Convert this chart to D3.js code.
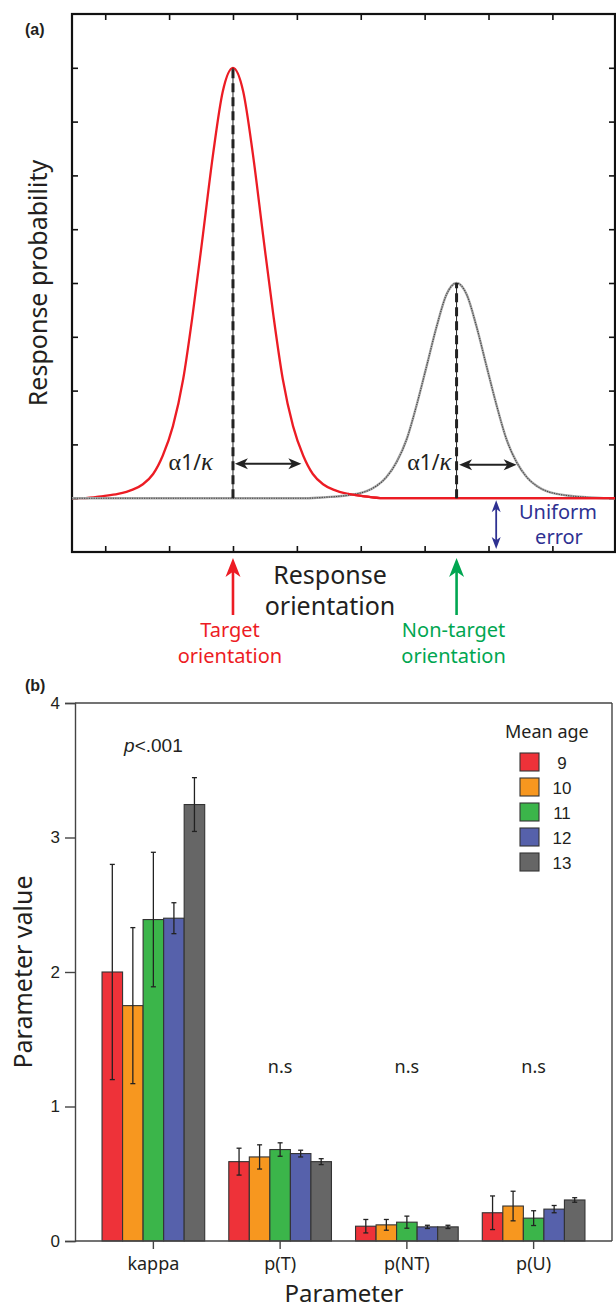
<!DOCTYPE html>
<html><head><meta charset="utf-8">
<script src="https://cdn.jsdelivr.net/npm/d3@7"></script>
<style>body{margin:0;background:#fff}svg{display:block}</style>
</head><body><svg id="c" width="616" height="1308"></svg>
<script>
// ---------- Panel (a) data ----------
const xTicksA = [0, 1, 2, 3, 4, 5, 6, 7];
const yTicksA = [1, 2, 3, 4, 5, 6, 7, 8, 9];
const uniformLevel = 1;
const targetPos = 2, targetPeak = 9;
const nonTargetPos = 5.5, nonTargetPeak = 5;
// target (red) curve: [orientation, probability]
const targetCurve = [
  [-0.52,1.00],[-0.35,1.00],[-0.03,1.04],[0.20,1.08],[0.43,1.16],[0.59,1.26],[0.75,1.45],
  [0.90,1.79],[1.06,2.34],[1.22,3.21],[1.37,4.42],[1.53,5.90],[1.69,7.41],[1.84,8.56],[2.00,9.00],
  [2.16,8.56],[2.31,7.41],[2.47,5.90],[2.63,4.42],[2.78,3.21],[2.94,2.34],[3.10,1.79],[3.25,1.45],
  [3.41,1.26],[3.57,1.16],[3.80,1.08],[4.03,1.04],[4.35,1.00],[7.98,1.00]
];
// non-target (grey) curve
const nonTargetCurve = [
  [-0.52,1.00],[3.15,1.00],[3.47,1.02],[3.70,1.04],[3.93,1.08],[4.09,1.13],[4.25,1.23],[4.40,1.39],
  [4.56,1.67],[4.72,2.10],[4.87,2.71],[5.03,3.45],[5.19,4.20],[5.34,4.78],[5.50,5.00],
  [5.66,4.78],[5.81,4.20],[5.97,3.45],[6.13,2.71],[6.28,2.10],[6.44,1.67],[6.60,1.39],[6.75,1.23],
  [6.91,1.13],[7.07,1.08],[7.30,1.04],[7.53,1.02],[7.85,1.00],[7.98,1.00]
];
const widthArrows = [ // [from, to, level]
  [2.03, 3.07, 1.64],
  [5.54, 6.44, 1.62]
];
const uniformArrowPos = 6.12;

// ---------- Panel (b) data ----------
const categories = ["kappa", "p(T)", "p(NT)", "p(U)"];
const ages = ["9", "10", "11", "12", "13"];
const ageColors = ["#ee3239", "#f7971f", "#3bb54a", "#5661ab", "#666666"];
const mean9  = [2.00, 0.59, 0.11, 0.21];
const mean10 = [1.75, 0.625, 0.12, 0.26];
const mean11 = [2.39, 0.68, 0.14, 0.17];
const mean12 = [2.40, 0.65, 0.105, 0.237];
const mean13 = [3.245, 0.59, 0.105, 0.305];
const err9  = [0.80, 0.10, 0.05, 0.125];
const err10 = [0.58, 0.09, 0.04, 0.11];
const err11 = [0.50, 0.05, 0.045, 0.055];
const err12 = [0.115, 0.025, 0.012, 0.027];
const err13 = [0.20, 0.022, 0.012, 0.017];
const yTicksB = [0, 1, 2, 3, 4];
const sigLabels = ["p<.001", "n.s", "n.s", "n.s"];

const svg = d3.select("#c");
const SANS = "'Noto Sans', 'Open Sans', sans-serif";
const ARIAL = "'Liberation Sans', Arial, sans-serif";
const TXT = "#231f20";

// ================= Panel (a) =================
const xA = d3.scaleLinear().domain([-0.52, 7.98]).range([72, 615]);
const yA = d3.scaleLinear().domain([0, 10]).range([552, 14]);
const gA = svg.append("g");

function styleAxisA(g){
  g.select(".domain").remove();
  g.selectAll(".tick line").attr("stroke", "#111").attr("stroke-width", 1.6);
  g.selectAll(".tick text").remove();
}
gA.append("g").attr("transform", `translate(0,${yA(0)})`)
  .call(d3.axisBottom(xA).tickValues(xTicksA).tickSizeInner(-6).tickSizeOuter(0)).call(styleAxisA);
gA.append("g").attr("transform", `translate(0,${yA(10)})`)
  .call(d3.axisTop(xA).tickValues(xTicksA).tickSizeInner(-6).tickSizeOuter(0)).call(styleAxisA);
gA.append("g").attr("transform", `translate(${xA(-0.52)},0)`)
  .call(d3.axisLeft(yA).tickValues(yTicksA).tickSizeInner(-6).tickSizeOuter(0)).call(styleAxisA);
gA.append("g").attr("transform", `translate(${xA(7.98)},0)`)
  .call(d3.axisRight(yA).tickValues(yTicksA).tickSizeInner(-6).tickSizeOuter(0)).call(styleAxisA);
gA.append("rect").attr("x", xA(-0.52)).attr("y", yA(10))
  .attr("width", xA(7.98) - xA(-0.52)).attr("height", yA(0) - yA(10))
  .attr("fill", "none").attr("stroke", "#111").attr("stroke-width", 2.2);

const lineA = d3.line().x(d => xA(d[0])).y(d => yA(d[1])).curve(d3.curveMonotoneX);

// red full curve
gA.append("path").datum(targetCurve).attr("d", lineA)
  .attr("fill", "none").attr("stroke", "#ec1c24").attr("stroke-width", 2.3);
// grey textured curve
gA.append("path").datum(nonTargetCurve).attr("d", lineA)
  .attr("fill", "none").attr("stroke", "#a8a8a8").attr("stroke-width", 2.4);
gA.append("path").datum(nonTargetCurve).attr("d", lineA)
  .attr("fill", "none").attr("stroke", "#444").attr("stroke-width", 1.1)
  .attr("stroke-dasharray", "1.2,1.2");
// red over the right part of the baseline
gA.append("path").datum(targetCurve.filter(d => d[0] >= 3.8)).attr("d", lineA)
  .attr("fill", "none").attr("stroke", "#ec1c24").attr("stroke-width", 2.3);

// dashed centre lines
[[targetPos, targetPeak], [nonTargetPos, nonTargetPeak]].forEach(([p, h]) => {
  gA.append("line").attr("x1", xA(p)).attr("x2", xA(p)).attr("y1", yA(uniformLevel)).attr("y2", yA(h))
    .attr("stroke", "#222").attr("stroke-width", 1);
  gA.append("line").attr("x1", xA(p)).attr("x2", xA(p)).attr("y1", yA(uniformLevel)).attr("y2", yA(h))
    .attr("stroke", "#222").attr("stroke-width", 3).attr("stroke-dasharray", "9,5");
});

function head(x, y, dx, dy, len, hw, color){
  const px = -dy, py = dx;
  const bx = x - dx*len, by = y - dy*len;
  const nx = x - dx*len*0.72, ny = y - dy*len*0.72;
  return gA.append("path")
    .attr("d", `M${x},${y}L${bx+px*hw},${by+py*hw}L${nx},${ny}L${bx-px*hw},${by-py*hw}Z`)
    .attr("fill", color);
}
// width arrows
widthArrows.forEach(([a, b, lv]) => {
  const y = yA(lv), x1 = xA(a), x2 = xA(b);
  gA.append("line").attr("x1", x1+6).attr("x2", x2-6).attr("y1", y).attr("y2", y)
    .attr("stroke", "#222").attr("stroke-width", 2);
  head(x1, y, -1, 0, 13, 5.5, "#222");
  head(x2, y, 1, 0, 13, 5.5, "#222");
});
// alpha 1/kappa labels
function kappaLabel(xr, y){
  const t = gA.append("text").attr("x", xr).attr("y", y).attr("text-anchor", "end").attr("fill", TXT);
  t.append("tspan").attr("font-family", "'Liberation Serif', serif").attr("font-size", 24).text("α");
  t.append("tspan").attr("font-family", SANS).attr("font-size", 21).text("1/");
  t.append("tspan").attr("font-family", "'Liberation Serif', serif").attr("font-style", "italic").attr("font-size", 25).text("κ");
}
kappaLabel(xA(targetPos) - 20, yA(widthArrows[0][2]) + 6);
kappaLabel(xA(nonTargetPos) - 5, yA(widthArrows[1][2]) + 5);

// uniform error arrow
{
  const x = xA(uniformArrowPos), y1 = yA(uniformLevel) + 2, y2 = yA(0) - 3;
  gA.append("line").attr("x1", x).attr("x2", x).attr("y1", y1+8).attr("y2", y2-8)
    .attr("stroke", "#2e3192").attr("stroke-width", 1.8);
  head(x, y1, 0, -1, 12, 4.5, "#2e3192");
  head(x, y2, 0, 1, 12, 4.5, "#2e3192");
  gA.append("text").attr("x", 558).attr("y", 519).attr("text-anchor", "middle")
    .attr("font-family", SANS).attr("font-size", 20).attr("fill", "#2e3192").text("Uniform");
  gA.append("text").attr("x", 559).attr("y", 544).attr("text-anchor", "middle")
    .attr("font-family", SANS).attr("font-size", 20).attr("fill", "#2e3192").text("error");
}

// axis titles (a)
gA.append("text").attr("x", 330).attr("y", 584).attr("text-anchor", "middle")
  .attr("font-family", SANS).attr("font-size", 25).attr("fill", TXT).text("Response");
gA.append("text").attr("x", 330).attr("y", 615).attr("text-anchor", "middle")
  .attr("font-family", SANS).attr("font-size", 25).attr("fill", TXT).text("orientation");
gA.append("text").attr("transform", "translate(47,283) rotate(-90)").attr("text-anchor", "middle")
  .attr("font-family", SANS).attr("font-size", 25).attr("fill", TXT).text("Response probability");
gA.append("text").attr("x", 25).attr("y", 35)
  .attr("font-family", ARIAL).attr("font-weight", "bold").attr("font-size", 16).attr("fill", TXT).text("(a)");

// target / non-target arrows
[[targetPos, "#ed1c24", "Target"], [nonTargetPos, "#00a651", "Non-target"]].forEach(([p, col, lab]) => {
  const x = xA(p);
  gA.append("line").attr("x1", x).attr("x2", x).attr("y1", 615).attr("y2", 570)
    .attr("stroke", col).attr("stroke-width", 2.6);
  head(x, 558, 0, -1, 19, 7.5, col);
  gA.append("text").attr("x", x - 3).attr("y", 637).attr("text-anchor", "middle")
    .attr("font-family", SANS).attr("font-size", 20).attr("fill", col).text(lab);
  gA.append("text").attr("x", x - 3).attr("y", 663).attr("text-anchor", "middle")
    .attr("font-family", SANS).attr("font-size", 20).attr("fill", col).text("orientation");
});

// ================= Panel (b) =================
const means = [mean9, mean10, mean11, mean12, mean13];
const errs = [err9, err10, err11, err12, err13];
const x0 = d3.scaleBand().domain(categories).range([90, 597]).paddingInner(0.19).paddingOuter(0.095);
const x1 = d3.scaleBand().domain(ages).range([0, x0.bandwidth()]);
const yB = d3.scaleLinear().domain([0, 4]).range([1241, 703]);
const color = d3.scaleOrdinal().domain(ages).range(ageColors);
const gB = svg.append("g");
const AX = "#444";

// frame
gB.append("line").attr("x1", 75).attr("x2", 612).attr("y1", yB(4)).attr("y2", yB(4)).attr("stroke", AX).attr("stroke-width", 1.4);
gB.append("line").attr("x1", 612).attr("x2", 612).attr("y1", yB(4)).attr("y2", yB(0)).attr("stroke", AX).attr("stroke-width", 1.4);

const rows = [];
categories.forEach((c, ci) => ages.forEach((a, ai) => rows.push({c, a, v: means[ai][ci], e: errs[ai][ci]})));

gB.selectAll("rect.bar").data(rows).join("rect").attr("class", "bar")
  .attr("x", d => x0(d.c) + x1(d.a)).attr("width", x1.bandwidth())
  .attr("y", d => yB(d.v)).attr("height", d => yB(0) - yB(d.v))
  .attr("fill", d => color(d.a)).attr("stroke", "#333").attr("stroke-width", 1.1);

const eb = gB.selectAll("g.err").data(rows).join("g").attr("class", "err")
  .attr("transform", d => `translate(${x0(d.c) + x1(d.a) + x1.bandwidth()/2},0)`);
eb.append("line").attr("y1", d => yB(d.v - d.e)).attr("y2", d => yB(d.v + d.e)).attr("stroke", "#222").attr("stroke-width", 1.3);
eb.append("line").attr("x1", -2.5).attr("x2", 2.5).attr("y1", d => yB(d.v + d.e)).attr("y2", d => yB(d.v + d.e)).attr("stroke", "#222").attr("stroke-width", 1.3);
eb.append("line").attr("x1", -2.5).attr("x2", 2.5).attr("y1", d => yB(d.v - d.e)).attr("y2", d => yB(d.v - d.e)).attr("stroke", "#222").attr("stroke-width", 1.3);

// axes
const yAxB = gB.append("g").attr("transform", "translate(75,0)")
  .call(d3.axisLeft(yB).tickValues(yTicksB).tickSize(10).tickPadding(5).tickFormat(d3.format("d")));
yAxB.selectAll("path,line").attr("stroke", AX).attr("stroke-width", 1.4);
yAxB.selectAll("text").attr("font-family", ARIAL).attr("font-size", 17).attr("fill", TXT);

const xAxB = gB.append("g").attr("transform", `translate(0,${yB(0)})`)
  .call(d3.axisBottom(x0).tickSize(8).tickPadding(8).tickSizeOuter(0));
xAxB.select(".domain").remove();
xAxB.selectAll("line").attr("stroke", AX).attr("stroke-width", 1.4);
xAxB.selectAll("text").attr("font-family", SANS).attr("font-size", 18).attr("fill", TXT);
gB.append("line").attr("x1", 75).attr("x2", 612).attr("y1", yB(0)).attr("y2", yB(0)).attr("stroke", AX).attr("stroke-width", 1.4);

// significance labels
categories.forEach((c, i) => {
  const cx = x0(c) + x0.bandwidth()/2;
  if (i === 0) {
    const t = gB.append("text").attr("x", cx).attr("y", 752).attr("text-anchor", "middle")
      .attr("font-family", ARIAL).attr("font-size", 19).attr("fill", TXT);
    t.append("tspan").attr("font-style", "italic").text("p");
    t.append("tspan").text(sigLabels[i].slice(1));
  } else {
    gB.append("text").attr("x", cx).attr("y", 1073).attr("text-anchor", "middle")
      .attr("font-family", SANS).attr("font-size", 18).attr("fill", TXT).text(sigLabels[i]);
  }
});

// titles
gB.append("text").attr("x", 344).attr("y", 1302).attr("text-anchor", "middle")
  .attr("font-family", SANS).attr("font-size", 24).attr("fill", TXT).text("Parameter");
gB.append("text").attr("transform", "translate(32,972) rotate(-90)").attr("text-anchor", "middle")
  .attr("font-family", SANS).attr("font-size", 25).attr("fill", TXT).text("Parameter value");
gB.append("text").attr("x", 25).attr("y", 691)
  .attr("font-family", ARIAL).attr("font-weight", "bold").attr("font-size", 16).attr("fill", TXT).text("(b)");

// legend
gB.append("text").attr("x", 505).attr("y", 738).attr("font-family", SANS).attr("font-size", 18).attr("fill", TXT).text("Mean age");
const lg = gB.selectAll("g.lg").data(ages).join("g").attr("class", "lg")
  .attr("transform", (d, i) => `translate(520,${753 + i*25})`);
lg.append("rect").attr("width", 19).attr("height", 18).attr("fill", d => color(d)).attr("stroke", "#333").attr("stroke-width", 1.1);
lg.append("text").attr("x", 42).attr("y", 16).attr("text-anchor", "middle")
  .attr("font-family", ARIAL).attr("font-size", 17).attr("fill", TXT).text(d => d);
</script></body></html>
